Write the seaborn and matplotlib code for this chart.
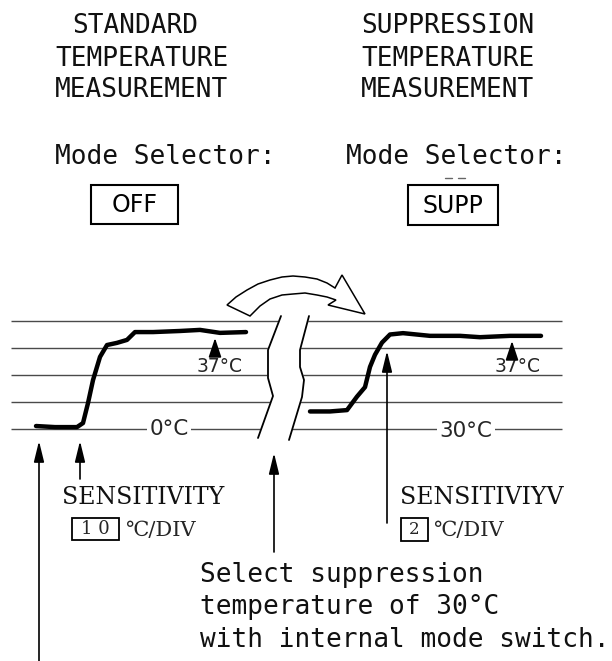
import matplotlib
matplotlib.use("Agg")
import matplotlib.pyplot as plt
from matplotlib.patches import Rectangle, Polygon
import numpy as np
import pandas as pd
import seaborn as sns

sns.set_theme(style="white")
plt.rcParams["font.family"] = ["DejaVu Sans"]

# recorder traces, time in chart units, temperature in degC
std_time = [36, 55, 77, 83, 88, 93, 100, 107, 117, 127, 135, 153, 180, 200, 220, 246]
std_temp = [1.1, 0.7, 0.7, 2.2, 9.6, 18.1, 26.7, 31.1, 31.9, 33.0, 35.9, 35.9, 36.3, 36.7, 35.6, 35.9]
supp_time = [310, 330, 347, 357, 365, 370, 375, 382, 390, 403, 430, 460, 480, 510, 541]
supp_temp = [31.3, 31.3, 31.4, 32.4, 33.1, 34.6, 35.5, 36.4, 37.0, 37.1, 36.9, 36.9, 36.8, 36.9, 36.9]

std_sens = 10   # degC per DIV
std_zero = 0
supp_sens = 2
supp_zero = 30
grid_divs = [0, 1, 2, 3, 4]

std = pd.DataFrame({"time": std_time, "div": (np.array(std_temp) - std_zero) / std_sens})
supp = pd.DataFrame({"time": supp_time, "div": (np.array(supp_temp) - supp_zero) / supp_sens})

fig = plt.figure(figsize=(6.12, 6.61), dpi=100)

# chart axes: y in divisions (27 px per div, zero line at 429 px)
ax = fig.add_axes([0, 0, 1, 1])
ax.set_xlim(0, 612)
ax.set_ylim(-8.593, 15.889)
ax.axis("off")

# overlay in pixel units for the annotations
bg = fig.add_axes([0, 0, 1, 1], zorder=2)
bg.patch.set_alpha(0)
bg.set_xlim(0, 612)
bg.set_ylim(661, 0)
bg.axis("off")

ax.hlines(grid_divs, 11, 562, color="#4a4a4a", lw=1.0)
sns.lineplot(data=std, x="time", y="div", ax=ax, color="black", lw=3.2, sort=False, estimator=None)
sns.lineplot(data=supp, x="time", y="div", ax=ax, color="black", lw=3.2, sort=False, estimator=None)

# break in the chart paper
left_edge = [(281, 316), (268, 350), (268, 378), (273, 396), (258, 438)]
right_edge = [(309, 316), (300, 350), (300, 367), (304, 380), (302, 397), (289, 440)]
strip = left_edge + right_edge[::-1]
bg.fill([p[0] for p in strip], [p[1] for p in strip], color="white", zorder=1)
for edge in (left_edge, right_edge):
    bg.plot([p[0] for p in edge], [p[1] for p in edge], color="black", lw=1.3, zorder=2)

# curved arrow
arrow_pts = [(227, 305), (236, 297), (247, 290), (258, 284), (270, 280), (282, 277),
             (293, 276), (305, 277), (317, 279), (327, 283), (335, 288), (342, 275),
             (365, 314), (328, 305), (336, 300), (327, 297), (317, 295), (305, 293),
             (293, 294), (282, 295), (270, 299), (260, 306), (250, 316)]
bg.add_patch(Polygon(arrow_pts, closed=True, fc="white", ec="black", lw=1.1, zorder=3))

mono = "DejaVu Sans Mono"
serif = ["DejaVu Serif", "DejaVu Sans"]

# headings
for txt, x, y in [("STANDARD", 72, 26), ("TEMPERATURE", 55, 59), ("MEASUREMENT", 55, 90),
                  ("SUPPRESSION", 361, 26), ("TEMPERATURE", 361, 59), ("MEASUREMENT", 361, 90),
                  ("Mode Selector:", 55, 157), ("Mode Selector:", 346, 157)]:
    bg.text(x, y, txt, family=mono, fontsize=18.8, color="#111111", ha="left", va="center")

bg.add_patch(Rectangle((91, 185), 87, 39, fill=False, ec="black", lw=1.5))
bg.text(135, 205, "OFF", fontsize=17, weight="medium", ha="center", va="center", color="black")
bg.add_patch(Rectangle((408, 185), 90, 40, fill=False, ec="black", lw=1.5))
bg.text(453, 206, "SUPP", fontsize=17, weight="medium", ha="center", va="center", color="black")
bg.plot([445, 452], [178, 178], color="#666666", lw=1)
bg.plot([458, 465], [178, 178], color="#666666", lw=1)

# level labels
lab_box = dict(fc="white", ec="none", pad=2)
bg.text(169, 429, "0°C", fontsize=15.5, ha="center", va="center", bbox=lab_box, zorder=4)
bg.text(466, 431, "30°C", fontsize=15.5, ha="center", va="center", bbox=lab_box, zorder=4)
bg.text(220, 366, "37°C", fontsize=13.5, ha="center", va="center")
bg.text(518, 367, "37°C", fontsize=13.5, ha="center", va="center")

def up_arrow(x, y0, y1, hl=0.9, hw=0.22, ms=14):
    bg.annotate("", xy=(x, y1), xytext=(x, y0),
                arrowprops=dict(arrowstyle=f"-|>,head_length={hl},head_width={hw}",
                                color="black", lw=1.2, shrinkA=0, shrinkB=0, mutation_scale=ms))

up_arrow(215, 356, 338, hl=0.9, hw=0.3, ms=13)
up_arrow(512, 358, 341, hl=0.9, hw=0.3, ms=13)
up_arrow(39, 661, 441)
up_arrow(80, 479, 441)
up_arrow(274, 552, 453)
up_arrow(387, 523, 351)

# sensitivity settings
bg.text(62, 498, "SENSITIVITY", family=serif, fontsize=17, ha="left", va="center", color="#111111")
bg.add_patch(Rectangle((72, 518), 47, 22, fill=False, ec="black", lw=1.3))
bg.text(95.5, 529, "1 0", family=serif, fontsize=13, ha="center", va="center")
bg.text(125, 530, "℃/DIV", family=serif, fontsize=15, ha="left", va="center")

bg.text(400, 498, "SENSITIVIYV", family=serif, fontsize=17, ha="left", va="center", color="#111111")
bg.add_patch(Rectangle((401, 518), 27, 23, fill=False, ec="black", lw=1.3))
bg.text(414.5, 529.5, "2", family=serif, fontsize=12, ha="center", va="center")
bg.text(433, 530, "℃/DIV", family=serif, fontsize=15, ha="left", va="center")

for txt, y in [("Select suppression", 575), ("temperature of 30°C", 607),
               ("with internal mode switch.", 640)]:
    bg.text(200, y, txt, family=mono, fontsize=18.8, ha="left", va="center", color="#111111")

fig.savefig("out.png", dpi=100, facecolor="white")
